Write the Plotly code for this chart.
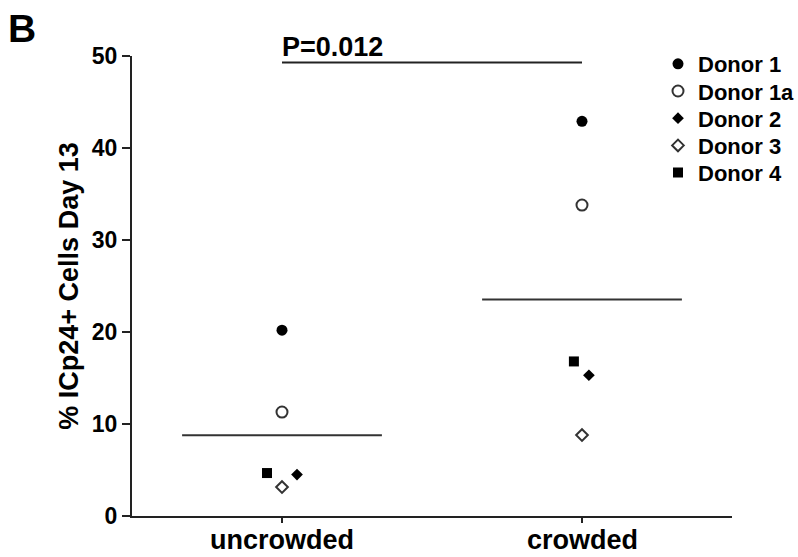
import plotly.graph_objects as go

categories = ["uncrowded", "crowded"]
donors = ["Donor 1", "Donor 1a", "Donor 2", "Donor 3", "Donor 4"]
# values per donor: [uncrowded, crowded]
donor1 = [20.2, 42.9]
donor1a = [11.3, 33.8]
donor2 = [4.5, 15.3]
donor3 = [3.15, 8.8]
donor4 = [4.67, 16.8]
p_label = "P=0.012"
y_ticks = [0, 10, 20, 30, 40, 50]

values = [donor1, donor1a, donor2, donor3, donor4]
# horizontal jitter per donor at each category
jitter = [[0, 0], [0, 0], [0.05, 0.023], [0, 0], [-0.05, -0.027]]
symbols = ["circle", "circle-open", "diamond", "diamond-open", "square"]
sizes = [11, 11, 9, 9, 10]
colors = ["#000000", "#333333", "#000000", "#333333", "#000000"]

FONT = "Liberation Sans, Arial, sans-serif"
# legend layout (pixels): first row centre and row step
PLOT_TOP, PLOT_BOTTOM, PLOT_LEFT, PLOT_W = 56, 516, 132, 600
LEG_Y0, LEG_STEP, LEG_X = 64, 27.2, 658

fig = go.Figure()
legend_layout = {}
for k, (name, vals, jit, sym, sz, col) in enumerate(zip(donors, values, jitter, symbols, sizes, colors)):
    xs = [i + 1 + j for i, j in enumerate(jit)]
    lname = "legend" if k == 0 else "legend%d" % (k + 1)
    fig.add_trace(go.Scatter(
        x=xs, y=vals, mode="markers", name=name, legend=lname,
        marker=dict(symbol=sym, size=sz, color=col,
                    line=dict(width=2 if "open" in sym else 0, color=col)),
    ))
    yc = LEG_Y0 + k * LEG_STEP
    legend_layout[lname] = dict(
        x=(LEG_X - PLOT_LEFT) / PLOT_W, y=(PLOT_BOTTOM - yc) / (PLOT_BOTTOM - PLOT_TOP),
        xanchor="left", yanchor="middle", bgcolor="rgba(0,0,0,0)", itemwidth=30,
        font=dict(size=22, family=FONT, color="black", weight="bold"),
    )

# mean lines
for i in range(len(categories)):
    m = sum(v[i] for v in values) / len(values)
    fig.add_shape(type="line", xref="x", yref="y", x0=i + 1 - 0.333, x1=i + 1 + 0.333,
                  y0=m, y1=m, line=dict(color="#333333", width=2))

# significance bar
fig.add_shape(type="line", xref="x", yref="y", x0=1, x1=2, y0=49.3, y1=49.3,
              line=dict(color="#222222", width=2))
fig.add_annotation(x=1, y=49.3, xref="x", yref="y", text="<b>" + p_label + "</b>",
                   showarrow=False, xanchor="left", yanchor="bottom", yshift=-2, xshift=-2,
                   font=dict(size=27, color="black", family=FONT))

# category labels (placed closer to the axis than plotly's default tick labels)
for i, c in enumerate(categories):
    fig.add_annotation(x=i + 1, y=0, xref="x", yref="paper", text="<b>%s</b>" % c,
                       showarrow=False, xanchor="center", yanchor="top", yshift=-7,
                       font=dict(size=27, color="black", family=FONT))

fig.add_annotation(x=-0.21, y=1.11, xref="paper", yref="paper", text="<b>B</b>",
                   showarrow=False, xanchor="left", yanchor="top",
                   font=dict(size=39, color="black", family=FONT))

fig.update_layout(
    width=798, height=557,
    margin=dict(l=132, r=66, t=56, b=41, autoexpand=False),
    plot_bgcolor="white", paper_bgcolor="white",
    font=dict(family=FONT, color="black"),
    showlegend=True,
    **legend_layout,
)
fig.update_xaxes(
    range=[0.5, 2.5], tickvals=[1, 2], ticktext=["", ""],
    showline=True, linecolor="#222222", linewidth=2, ticks="outside", ticklen=5,
    tickwidth=2, tickcolor="#222222", showgrid=False, zeroline=False, automargin=False,
)
fig.update_yaxes(
    range=[0, 50], tickvals=y_ticks, ticktext=["<b>%d</b>" % t for t in y_ticks],
    showline=True, linecolor="#222222", linewidth=2, ticks="outside", ticklen=8,
    tickwidth=2, tickcolor="#222222", showgrid=False, zeroline=False, automargin=False,
    tickfont=dict(size=23, color="black"),
    title=dict(text="<b>% ICp24+ Cells Day 13</b>", font=dict(size=27, color="black"), standoff=5),
)

fig.write_html("out.html")
